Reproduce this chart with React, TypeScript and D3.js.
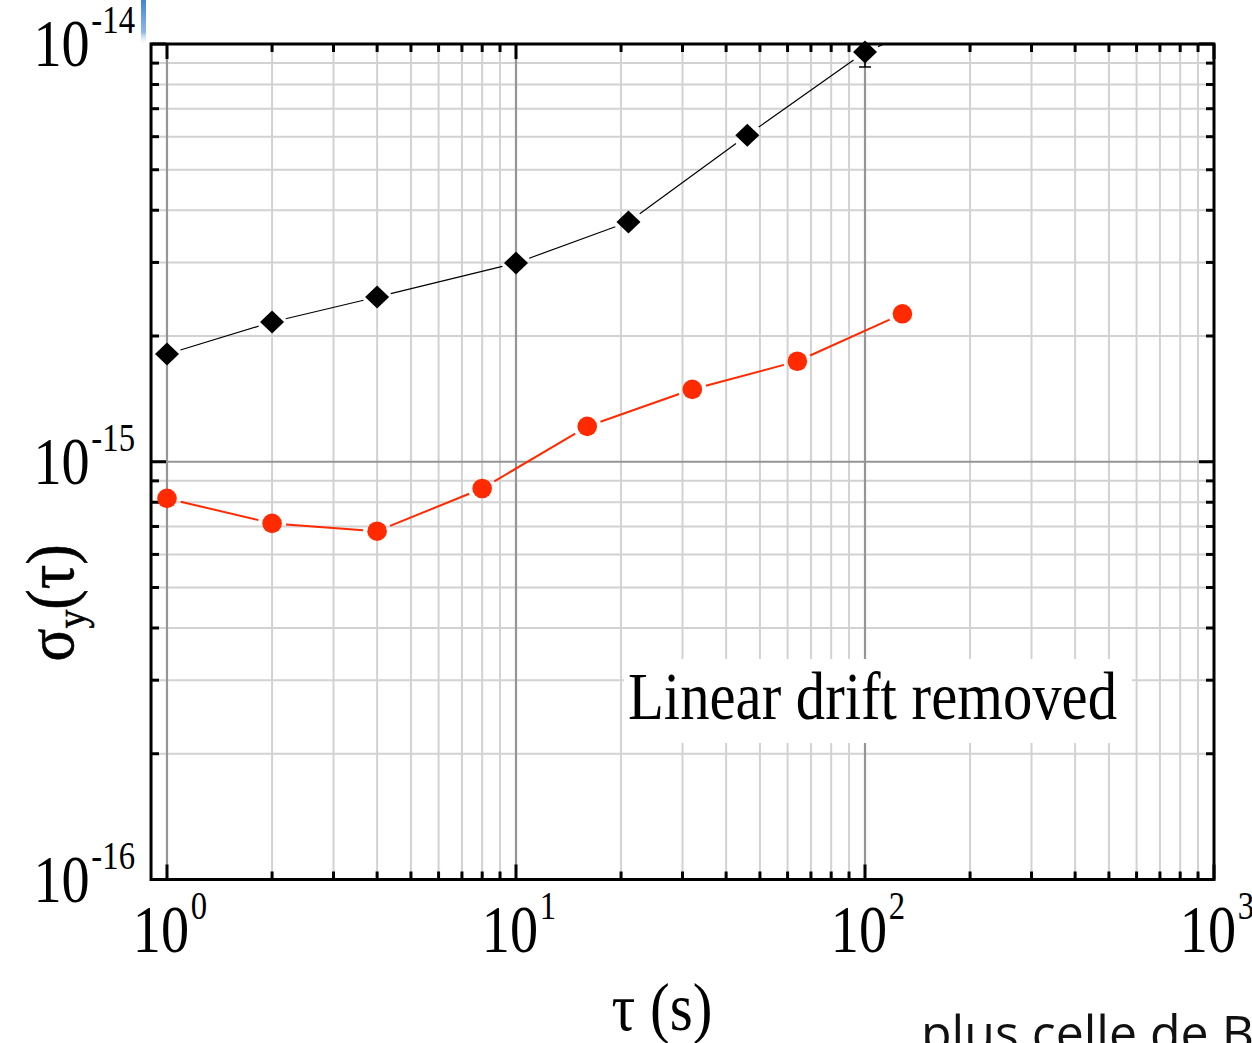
import React from 'react';
import * as d3 from 'd3';

// black diamonds (no drift removal) - last point runs off the top
const blackTau = [1, 2, 4, 10, 21, 46, 100, 215];
const blackSigma = [1.81e-15, 2.16e-15, 2.48e-15, 2.99e-15, 3.75e-15, 6.05e-15, 9.57e-15, 1.25e-14];
const blackErrLow = [0, 0, 0, 0, 0, 0, 0.76e-15, 0];

// red circles (linear drift removed)
const redTau = [1, 2, 4, 8, 16, 32, 64, 128];
const redSigma = [8.17e-16, 7.12e-16, 6.82e-16, 8.63e-16, 1.215e-15, 1.49e-15, 1.74e-15, 2.26e-15];

const xMajor = [1, 10, 100, 1000];
const xMajorLabels = ['0', '1', '2', '3'];
const yMajor = [1e-16, 1e-15, 1e-14];
const yMajorLabels = ['-16', '-15', '-14'];

const SERIF = '"Liberation Serif", "Times New Roman", serif';

const W = 1252;
const H = 1043;

function Pow({ px, py, exp, anchor }: { px: number; py: number; exp: string; anchor: string }) {
  return (
    <g transform={`translate(${px},${py}) scale(0.84,1)`}>
      <text textAnchor={anchor} fontFamily={SERIF} fontSize={67} fill="#000">
        10<tspan dx={2} dy={-33} fontSize={39}>{exp}</tspan>
      </text>
    </g>
  );
}

// split a polyline into segments shortened at both ends (gap around markers)
function trimmedSegments(pts: [number, number][], trim: number) {
  const segs: [number, number, number, number][] = [];
  for (let i = 0; i < pts.length - 1; i++) {
    const [x1, y1] = pts[i];
    const [x2, y2] = pts[i + 1];
    const len = Math.hypot(x2 - x1, y2 - y1);
    if (len <= 2 * trim) continue;
    const ux = (x2 - x1) / len, uy = (y2 - y1) / len;
    segs.push([x1 + ux * trim, y1 + uy * trim, x2 - ux * trim, y2 - uy * trim]);
  }
  return segs;
}

export default function App() {
  const x = d3.scaleLog().domain([1, 1000]).range([167, 1214]);
  const y = d3.scaleLog().domain([1e-16, 1e-14]).range([879.5, 44]);

  const left = x(0.9);
  const right = x(1000);
  const top = y(1e-14);
  const bottom = y(1e-16);

  const xMinor: number[] = [];
  [1, 10, 100].forEach(d => { for (let m = 2; m <= 9; m++) xMinor.push(m * d); });
  const yMinor: number[] = [];
  [1e-16, 1e-15].forEach(d => { for (let m = 2; m <= 9; m++) yMinor.push(m * d); });

  const blackPts = blackTau.map((t, i) => [x(t), y(blackSigma[i])] as [number, number]);
  const redPts = redTau.map((t, i) => [x(t), y(redSigma[i])] as [number, number]);

  const blackSegs = trimmedSegments(blackPts, 14);
  const redSegs = trimmedSegments(redPts, 14);

  const diamond = (cx: number, cy: number) =>
    `M${cx},${cy - 11.5}L${cx + 12},${cy}L${cx},${cy + 11.5}L${cx - 12},${cy}Z`;

  return (
    <svg width={W} height={H} style={{ position: 'absolute', left: 0, top: 0, background: '#fff' }}>
      <defs>
        <clipPath id="plot">
          <rect x={left} y={top} width={right - left} height={bottom - top} />
        </clipPath>
        <linearGradient id="blueBar" x1="0" y1="0" x2="0" y2="1">
          <stop offset="0" stopColor="#3f86d6" />
          <stop offset="0.7" stopColor="#8fb8e6" />
          <stop offset="1" stopColor="#ffffff" stopOpacity={0} />
        </linearGradient>
      </defs>
      <rect x={0} y={0} width={W} height={H} fill="#fff" />

      {/* grid */}
      <g>
        {xMinor.map(v => (
          <line key={'gx' + v} x1={x(v)} x2={x(v)} y1={top} y2={bottom} stroke="#d2d2d2" strokeWidth={2} />
        ))}
        {yMinor.map(v => (
          <line key={'gy' + v} x1={left} x2={right} y1={y(v)} y2={y(v)} stroke="#d2d2d2" strokeWidth={2} />
        ))}
        {[1, 10, 100].map(v => (
          <line key={'GX' + v} x1={x(v)} x2={x(v)} y1={top} y2={bottom} stroke="#959595" strokeWidth={2.2} />
        ))}
        <line x1={left} x2={right} y1={y(1e-15)} y2={y(1e-15)} stroke="#959595" strokeWidth={2.2} />
      </g>

      {/* white box behind the annotation */}
      <rect x={624} y={659} width={508} height={84} fill="#fff" />

      {/* error bar */}
      <g stroke="#000" strokeWidth={1.5}>
        {blackTau.map((t, i) => blackErrLow[i] > 0 ? (
          <g key={'e' + i}>
            <line x1={x(t)} x2={x(t)} y1={y(blackSigma[i])} y2={y(blackSigma[i] - blackErrLow[i])} />
            <line x1={x(t) - 6} x2={x(t) + 6} y1={y(blackSigma[i] - blackErrLow[i])} y2={y(blackSigma[i] - blackErrLow[i])} />
          </g>
        ) : null)}
      </g>

      {/* lines */}
      <g clipPath="url(#plot)">
        {blackSegs.map((s, i) => (
          <line key={'bs' + i} x1={s[0]} y1={s[1]} x2={s[2]} y2={s[3]} stroke="#000" strokeWidth={1.2} />
        ))}
        {redSegs.map((s, i) => (
          <line key={'rs' + i} x1={s[0]} y1={s[1]} x2={s[2]} y2={s[3]} stroke="#ff2a00" strokeWidth={2} />
        ))}
      </g>

      {/* frame */}
      <rect x={left} y={top} width={right - left} height={bottom - top} fill="none" stroke="#000" strokeWidth={3} />

      {/* ticks */}
      <g stroke="#000" strokeWidth={3}>
        {xMajor.map(v => (
          <g key={'tx' + v}>
            <line x1={x(v)} x2={x(v)} y1={bottom} y2={bottom - 15} />
            <line x1={x(v)} x2={x(v)} y1={top} y2={top + 15} />
          </g>
        ))}
        {xMinor.map(v => (
          <g key={'tmx' + v}>
            <line x1={x(v)} x2={x(v)} y1={bottom} y2={bottom - 8} />
            <line x1={x(v)} x2={x(v)} y1={top} y2={top + 8} />
          </g>
        ))}
        {yMajor.map(v => (
          <g key={'ty' + v}>
            <line x1={left} x2={left + 15} y1={y(v)} y2={y(v)} />
            <line x1={right} x2={right - 15} y1={y(v)} y2={y(v)} />
          </g>
        ))}
        {yMinor.map(v => (
          <g key={'tmy' + v}>
            <line x1={left} x2={left + 8} y1={y(v)} y2={y(v)} />
            <line x1={right} x2={right - 8} y1={y(v)} y2={y(v)} />
          </g>
        ))}
      </g>

      {/* markers */}
      <g>
        {blackPts.slice(0, 7).map((p, i) => (
          <path key={'bm' + i} d={diamond(p[0], p[1])} fill="#000" />
        ))}
        {redPts.map((p, i) => (
          <circle key={'rm' + i} cx={p[0]} cy={p[1]} r={9.8} fill="#ff2a00" />
        ))}
      </g>

      {/* tick labels */}
      {xMajor.map((v, i) => (
        <Pow key={'lx' + v} px={x(v) + 3} py={952} exp={xMajorLabels[i]} anchor="middle" />
      ))}
      {yMajor.map((v, i) => (
        <Pow key={'ly' + v} px={135} py={y(v) + 22} exp={yMajorLabels[i]} anchor="end" />
      ))}

      {/* axis titles */}
      <g transform="translate(662,1030) scale(0.87,1)">
        <text textAnchor="middle" fontFamily={SERIF} fontSize={68} fill="#000">τ (s)</text>
      </g>
      <g transform="translate(73,603) rotate(-90) scale(0.9,1)">
        <text textAnchor="middle" fontFamily={SERIF} fontSize={68} fill="#000" stroke="#000" strokeWidth={0.6}>
          σ<tspan dy={12} fontSize={42}>y</tspan><tspan dy={-12}>(τ)</tspan>
        </text>
      </g>

      {/* annotation */}
      <text x={628} y={719} fontFamily={SERIF} fontSize={67} fill="#000"
        textLength={489} lengthAdjust="spacingAndGlyphs">Linear drift removed</text>

      {/* slide remnants */}
      <rect x={141} y={0} width={5} height={46} fill="url(#blueBar)" />
      <text x={921} y={1051} fontFamily='"Open Sans", sans-serif' fontSize={50} fill="#111">plus celle de B</text>
    </svg>
  );
}
